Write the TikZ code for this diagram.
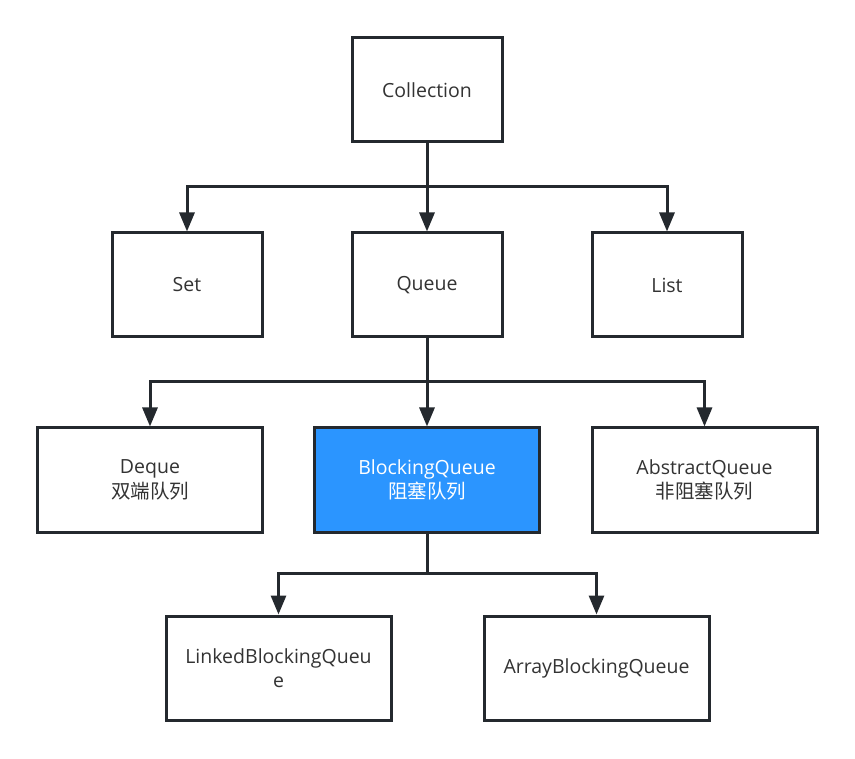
\documentclass[tikz,border=0pt]{standalone}
\usepackage{fontspec}
\setmainfont{Open Sans}
\newfontfamily\cjk{Noto Sans CJK SC}
\usetikzlibrary{arrows.meta}
\definecolor{linec}{HTML}{24292E}
\definecolor{textc}{HTML}{333333}
\definecolor{bluefill}{HTML}{2B95FF}
\tikzset{
  box/.style={draw=linec, line width=3pt, fill=white, text=textc, minimum width=#1, minimum height=104pt, align=center, font=\fontsize{19.5}{24.5}\selectfont, inner sep=0pt},
  box/.default=150pt,
  conn/.style={draw=linec, line width=3pt},
  arr/.style={conn, -{Triangle[width=15pt,length=19pt]}}
}
\begin{document}
\begin{tikzpicture}[x=1pt,y=-1pt]
\useasboundingbox (0,0) rectangle (855,759);
\node[box] (coll) at (427,90) {Collection};
\node[box] (set) at (187,285) {Set};
\node[box] (queue) at (427,285) {Queue};
\node[box] (list) at (667,285) {List};
\node[box=225pt] (deque) at (150,480) {Deque\\{\cjk 双端队列}};
\node[box=225pt, fill=bluefill, text=white] (bq) at (427,480) {BlockingQueue\\{\cjk 阻塞队列}};
\node[box=225pt] (aq) at (704.5,480) {AbstractQueue\\{\cjk 非阻塞队列}};
\node[box=225pt] (lbq) at (278.5,668) {LinkedBlockingQueu\\e};
\node[box=225pt] (abq) at (596.5,668) {ArrayBlockingQueue};
\coordinate (j1) at (427,187);
\coordinate (j2) at (427,382);
\coordinate (j3) at (427,573);
\draw[conn] (coll.south) -- (j1);
\draw[arr] (j1) -| (set.north);
\draw[arr] (j1) -- (queue.north);
\draw[arr] (j1) -| (list.north);
\draw[conn] (queue.south) -- (j2);
\draw[arr] (j2) -| (deque.north);
\draw[arr] (j2) -- (bq.north);
\draw[arr] (j2) -| (aq.north);
\draw[conn] (bq.south) -- (j3);
\draw[arr] (j3) -| (lbq.north);
\draw[arr] (j3) -| (abq.north);
\end{tikzpicture}
\end{document}
